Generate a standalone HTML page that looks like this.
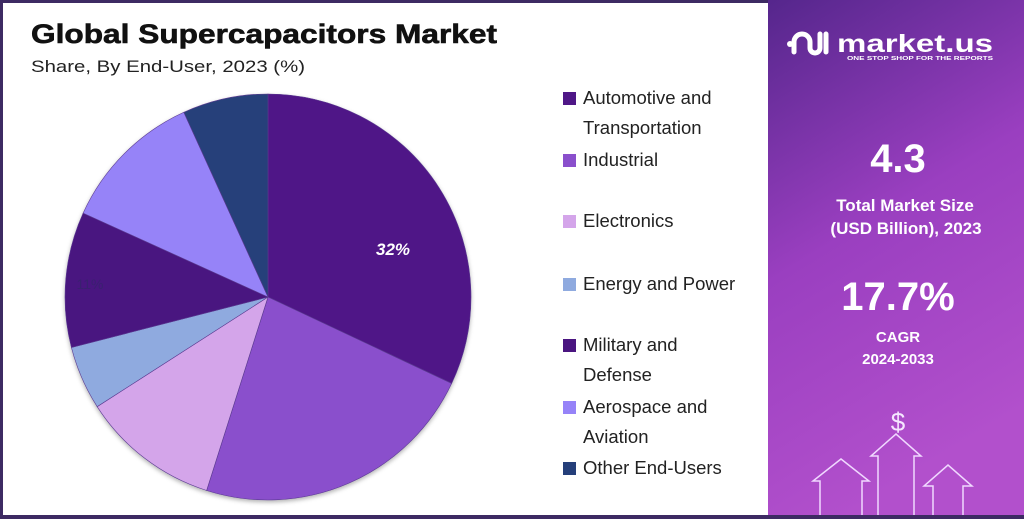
<!DOCTYPE html>
<html><head><meta charset="utf-8"><style>
html,body{margin:0;padding:0;width:1024px;height:519px;overflow:hidden;background:#fff;font-family:"Liberation Sans",sans-serif}
</style></head><body>
<svg id="s" width="1024" height="519" viewBox="0 0 1024 519" xmlns="http://www.w3.org/2000/svg">
<defs>
<linearGradient id="g" x1="0" y1="0" x2="0.3" y2="1">
<stop offset="0" stop-color="#55268c"/><stop offset="0.5" stop-color="#9a3fc0"/><stop offset="1" stop-color="#b250cc"/>
</linearGradient>
<filter id="sh" x="-10%" y="-10%" width="120%" height="120%"><feDropShadow dx="0" dy="2" stdDeviation="2" flood-color="#000" flood-opacity="0.3"/></filter>
</defs>
<rect x="0" y="0" width="1024" height="519" fill="#fff"/>
<rect x="0" y="0" width="1024" height="3" fill="#3d2a63"/>
<rect x="0" y="0" width="3" height="519" fill="#3d2a63"/>
<rect x="768" y="0" width="256" height="519" fill="url(#g)"/>
<rect x="0" y="515" width="1024" height="4" fill="#3d2a63"/>
<text x="31" y="43" font-size="27" font-weight="bold" fill="#111" stroke="#111" stroke-width="0.6" textLength="466" lengthAdjust="spacingAndGlyphs">Global Supercapacitors Market</text>
<text x="31" y="72" font-size="17" fill="#222" textLength="274" lengthAdjust="spacingAndGlyphs">Share, By End-User, 2023 (%)</text>
<g id="pie" filter="url(#sh)"></g>
<text x="393" y="255" font-size="17" font-weight="bold" font-style="italic" fill="#fff" text-anchor="middle">32%</text>
<text x="90" y="289" font-size="14" fill="#3a2070" text-anchor="middle">11%</text>
<g font-size="18.5" fill="#222">
<rect x="563" y="92" width="13" height="13" fill="#4f1787"/><text x="583" y="104">Automotive and</text><text x="583" y="134">Transportation</text>
<rect x="563" y="154" width="13" height="13" fill="#8a4fcc"/><text x="583" y="166">Industrial</text>
<rect x="563" y="215" width="13" height="13" fill="#d4a5ea"/><text x="583" y="227">Electronics</text>
<rect x="563" y="278" width="13" height="13" fill="#8faadf"/><text x="583" y="290">Energy and Power</text>
<rect x="563" y="339" width="13" height="13" fill="#4a1580"/><text x="583" y="351">Military and</text><text x="583" y="381">Defense</text>
<rect x="563" y="401" width="13" height="13" fill="#9683f8"/><text x="583" y="413">Aerospace and</text><text x="583" y="443">Aviation</text>
<rect x="563" y="462" width="13" height="13" fill="#253f7a"/><text x="583" y="474">Other End-Users</text>
</g>
<g fill="#fff">
<circle cx="790" cy="44" r="3"/>
<path d="M794 52 v-10 a8 8 0 0 1 16 0 v6 a5 5 0 0 0 10 0 v-14 M826 52 v-18" stroke="#fff" stroke-width="5" fill="none" stroke-linecap="round"/>
<text x="837" y="52" font-size="25" font-weight="bold" textLength="156" lengthAdjust="spacingAndGlyphs">market.us</text>
<text x="847" y="60" font-size="5.5" font-weight="bold" textLength="146" lengthAdjust="spacingAndGlyphs">ONE STOP SHOP FOR THE REPORTS</text>
<g text-anchor="middle" font-weight="bold">
<text x="898" y="172" font-size="40">4.3</text>
<text x="905" y="211" font-size="17">Total Market Size</text>
<text x="906" y="234" font-size="17">(USD Billion), 2023</text>
<text x="898" y="310" font-size="40">17.7%</text>
<text x="898" y="342" font-size="15">CAGR</text>
<text x="898" y="364" font-size="15">2024-2033</text>
<text x="898" y="431" font-size="26" font-weight="normal" fill="#f5e6ff">$</text>
</g>
</g>
<g fill="none" stroke="#f0d8ff" stroke-width="1.5">
<path d="M820 515 V481 H813 L841 459 L869 481 H862 V515"/>
<path d="M878 515 V456 H871 L896 434 L921 456 H914 V515"/>
<path d="M933 515 V486 H924 L948 465 L972 486 H963 V515"/>
</g>
</svg>
<script>
var cx=268,cy=297,r=203;
var b=[0,115.2,197.6,237.3,255.6,294.4,335.5,360];
var c=["#4f1787","#8a4fcc","#d4a5ea","#8faadf","#4a1580","#9683f8","#253f7a"];
var g=document.getElementById("pie"),h="";
function p(a){a=a*Math.PI/180;return (cx+r*Math.sin(a)).toFixed(2)+" "+(cy-r*Math.cos(a)).toFixed(2);}
for(var i=0;i<7;i++){var l=(b[i+1]-b[i])>180?1:0;
h+='<path d="M'+cx+' '+cy+' L'+p(b[i])+' A'+r+' '+r+' 0 '+l+' 1 '+p(b[i+1])+' Z" fill="'+c[i]+'" stroke="#5a3a90" stroke-width="0.6"/>';}
g.innerHTML=h;
</script>
</body></html>
